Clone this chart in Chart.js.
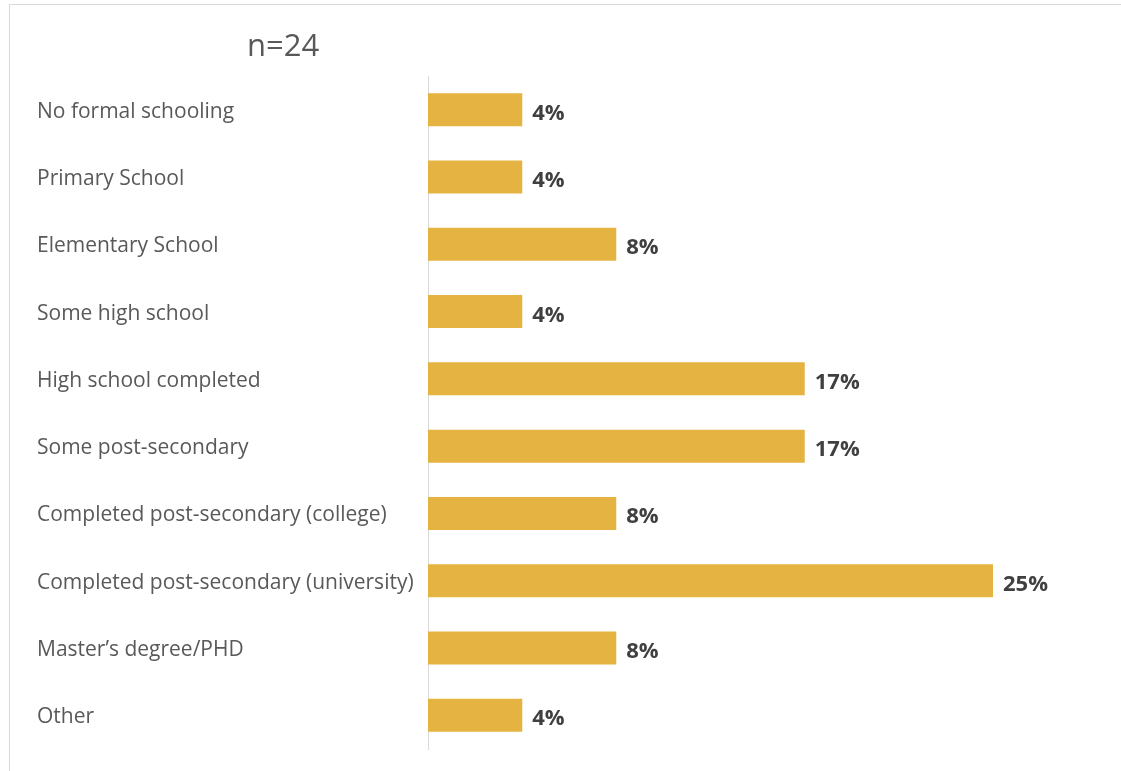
<!DOCTYPE html>
<html>
<head>
<meta charset="utf-8">
<script src="https://cdn.jsdelivr.net/npm/chart.js@4/dist/chart.umd.min.js"></script>
<style>
  html, body { margin: 0; padding: 0; background: #ffffff; }
  #wrap { position: relative; width: 1121px; height: 771px; overflow: hidden; }
  #frame { position: absolute; left: 9px; top: 4px; width: 1200px; height: 800px;
           border-top: 1px solid #d9d9d9; border-left: 1px solid #d9d9d9; pointer-events: none; }
  canvas { position: absolute; left: 0; top: 0; }
</style>
</head>
<body>
<div id="wrap">
  <canvas id="c" width="1121" height="771"></canvas>
  <div id="frame"></div>
</div>
<script>
const titleText = 'n=24';
const categories = [
  'No formal schooling',
  'Primary School',
  'Elementary School',
  'Some high school',
  'High school completed',
  'Some post-secondary',
  'Completed post-secondary (college)',
  'Completed post-secondary (university)',
  'Master\u2019s degree/PHD',
  'Other'
];
const values = [4.17, 4.17, 8.33, 4.17, 16.67, 16.67, 8.33, 25.0, 8.33, 4.17];
const valueLabels = ['4%', '4%', '8%', '4%', '17%', '17%', '8%', '25%', '8%', '4%'];

const FONT = '"Open Sans", "DejaVu Sans", sans-serif';

const extras = {
  id: 'extras',
  afterDatasetsDraw(chart) {
    const ctx = chart.ctx;
    const meta = chart.getDatasetMeta(0);
    ctx.save();
    ctx.font = 'bold 22px ' + FONT;
    ctx.fillStyle = '#404040';
    ctx.textAlign = 'left';
    ctx.textBaseline = 'alphabetic';
    meta.data.forEach((bar, i) => {
      ctx.fillText(valueLabels[i], bar.x + 10, bar.y + 10);
    });
    ctx.font = '31px ' + FONT;
    ctx.fillStyle = '#595959';
    ctx.fillText(titleText, 247, 56);
    ctx.restore();
  }
};

new Chart(document.getElementById('c'), {
  type: 'bar',
  data: {
    labels: categories,
    datasets: [{
      data: values,
      backgroundColor: '#E5B342',
      borderWidth: 0,
      barPercentage: 0.7,
      categoryPercentage: 0.7
    }]
  },
  options: {
    indexAxis: 'y',
    responsive: false,
    animation: false,
    layout: { padding: { left: 37, top: 76, bottom: 22, right: 15 } },
    plugins: { legend: { display: false }, tooltip: { enabled: false } },
    scales: {
      x: { display: false, min: 0, max: 30 },
      y: {
        afterFit(scale) { scale.width = 428 - 37; },
        grid: { display: false },
        border: { display: true, color: '#d9d9d9', width: 1 },
        ticks: {
          crossAlign: 'far',
          color: '#595959',
          font: { family: FONT, size: 21 },
          padding: 0,
          labelOffset: 2
        }
      }
    }
  },
  plugins: [extras]
});
</script>
</body>
</html>
